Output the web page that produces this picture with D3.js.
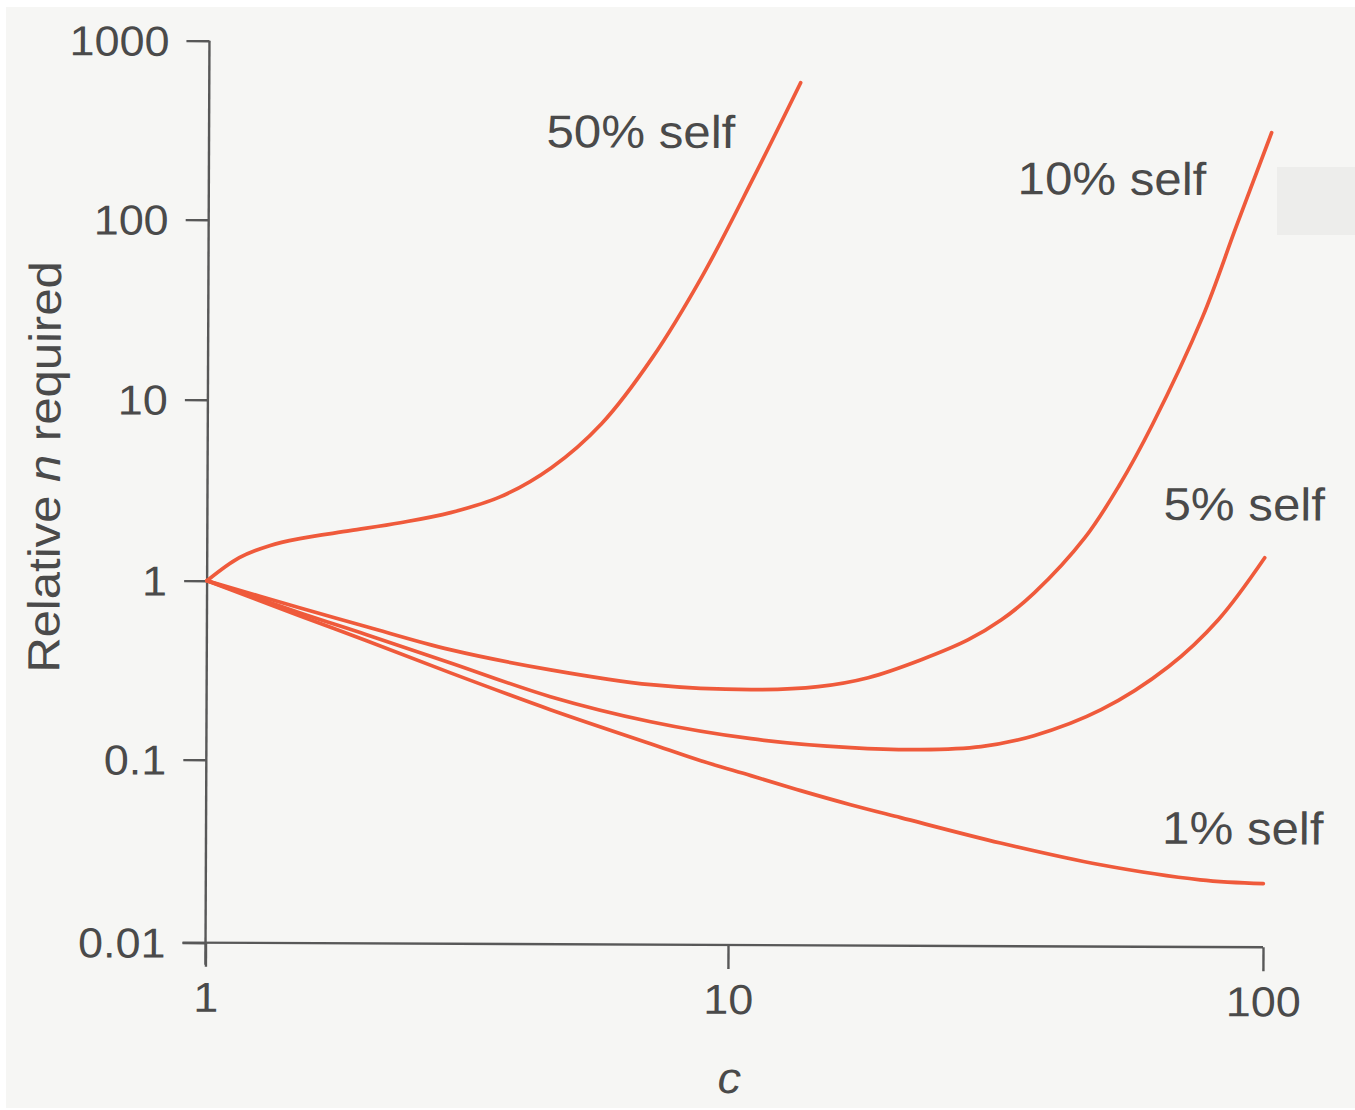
<!DOCTYPE html>
<html>
<head>
<meta charset="utf-8">
<script src="https://cdn.jsdelivr.net/npm/d3@7"></script>
<style>
  html, body { margin: 0; padding: 0; background: #ffffff; }
  svg { display: block; }
</style>
</head>
<body>
<svg id="chart" width="1355" height="1110"></svg>
<script>
// ---- data -------------------------------------------------------------
const xTickValues = [1, 10, 100];
const xTickLabels = ["1", "10", "100"];
const yTickValues = [1000, 100, 10, 1, 0.1, 0.01];
const yTickLabels = ["1000", "100", "10", "1", "0.1", "0.01"];

const seriesNames = ["50% self", "10% self", "5% self", "1% self"];

// c (x) and relative n (y) for each self fraction
const c50 = [1, 1.152, 1.316, 1.503, 1.876, 2.34, 2.92, 3.64, 4.55, 5.67, 7.08, 8.84, 11.0, 13.45];
const n50 = [1, 1.342, 1.567, 1.716, 1.904, 2.113, 2.41, 2.96, 4.29, 7.53, 17.5, 50.8, 177, 602];

const c10 = [1, 1.503, 2.022, 2.92, 4.55, 7.08, 11.0, 14.67, 18.19, 22.85, 27.97, 32.24, 37.16, 46.1, 53.35, 61.5, 76.2, 87.9, 102.2];
const n10 = [1, 0.710, 0.558, 0.4174, 0.324, 0.269, 0.2538, 0.2648, 0.298, 0.3767, 0.4886, 0.632, 0.8976, 1.814, 3.52, 7.66, 30.5, 96.8, 325];

const c5 = [1, 1.503, 2.022, 2.92, 4.55, 7.08, 11.0, 16.9, 22.85, 29.6, 37.16, 49.6, 66.2, 82.0, 100];
const n5 = [1, 0.666, 0.504, 0.3532, 0.2293, 0.1671, 0.1351, 0.1210, 0.1184, 0.1235, 0.1426, 0.2000, 0.349, 0.641, 1.42];

const c1 = [1, 1.503, 2.022, 2.92, 4.55, 7.08, 8.84, 11.0, 13.63, 16.9, 20.97, 32.24, 49.6, 76.2, 100];
const n1 = [1, 0.641, 0.4664, 0.3107, 0.194, 0.1259, 0.1014, 0.0843, 0.0700, 0.0588, 0.0501, 0.0366, 0.0280, 0.0233, 0.0223];

const seriesC = [c50, c10, c5, c1];
const seriesN = [n50, n10, n5, n1];

// ---- layout -----------------------------------------------------------
const W = 1355, H = 1110;
const INK = "#4a4a4a";
const AXIS = "#585858";
const CURVE = "#ef5a3b";
const FONT = "'Liberation Sans', Arial, Helvetica, sans-serif";
const STRETCH = 1.07;   // the printed face is a little wider than Liberation Sans

// label placement for each curve: anchor x, baseline y, text-anchor
const labelLayout = [
  { x: 545,  y: 148, anchor: "start" },
  { x: 1205, y: 193, anchor: "end" },
  { x: 1325, y: 518, anchor: "end" },
  { x: 1325, y: 842, anchor: "end" }
];

// ---- scales (piecewise log, one segment per decade) -------------------
const x = d3.scaleLog().domain([1, 10, 100]).range([207.5, 730, 1265]);
const y = d3.scaleLog().domain([1000, 100, 10, 1, 0.1, 0.01]).range([43, 222, 402, 583, 762, 945]);

const svg = d3.select("#chart");

// page
svg.append("rect").attr("x", 0).attr("y", 0).attr("width", W).attr("height", H).attr("fill", "#ffffff");
svg.append("rect").attr("x", 6).attr("y", 7).attr("width", W - 6).attr("height", H - 9).attr("fill", "#f6f6f4");
svg.append("rect").attr("x", 1277).attr("y", 167).attr("width", 80).attr("height", 68).attr("fill", "#ededeb");

// the whole figure sits very slightly rotated on the page
const g = svg.append("g").attr("transform", "rotate(0.25, 736, 492)");

// ---- axes -------------------------------------------------------------
const yAxis = d3.axisLeft(y)
  .tickValues(yTickValues)
  .tickFormat((d, i) => yTickLabels[i])
  .tickSize(23)
  .tickPadding(17);

const gy = g.append("g").attr("transform", `translate(${x(1)},0)`).call(yAxis);
gy.select(".domain").remove();
gy.selectAll(".tick line").attr("stroke", AXIS).attr("stroke-width", 2.4);
gy.selectAll(".tick text")
  .attr("fill", INK)
  .attr("font-family", FONT)
  .attr("font-size", 42)
  .attr("dy", "0.35em")
  .attr("x", null)
  .attr("transform", `translate(-40,0) scale(${STRETCH},1)`);

const xAxis = d3.axisBottom(x)
  .tickValues(xTickValues)
  .tickFormat((d, i) => xTickLabels[i])
  .tickSize(24)
  .tickPadding(14);

const gx = g.append("g").attr("transform", `translate(0,${y(0.01)})`).call(xAxis);
gx.select(".domain").remove();
gx.selectAll(".tick line").attr("stroke", AXIS).attr("stroke-width", 2.4);
gx.selectAll(".tick text")
  .attr("fill", INK)
  .attr("font-family", FONT)
  .attr("font-size", 42)
  .attr("y", null)
  .attr("dy", null)
  .attr("transform", `translate(0,${1014 - y(0.01)}) scale(${STRETCH},1)`);

// axis lines: vertical from the top tick down past the corner, horizontal from left of the corner to 100
g.append("line")
  .attr("x1", x(1)).attr("x2", x(1))
  .attr("y1", y(1000)).attr("y2", y(0.01) + 22)
  .attr("stroke", AXIS).attr("stroke-width", 2.4);
g.append("line")
  .attr("x1", x(1) - 23).attr("x2", x(100))
  .attr("y1", y(0.01)).attr("y2", y(0.01))
  .attr("stroke", AXIS).attr("stroke-width", 2.4);

// axis titles
const yTitle = g.append("text")
  .attr("transform", "translate(60,470) rotate(-90) scale(1.09,1)")
  .attr("text-anchor", "middle")
  .attr("font-family", FONT)
  .attr("font-size", 45)
  .attr("fill", INK);
yTitle.append("tspan").text("Relative ");
yTitle.append("tspan").attr("font-style", "italic").text("n");
yTitle.append("tspan").text(" required");

g.append("text")
  .attr("transform", `translate(${x(10) + 2},1093) scale(${STRETCH},1)`)
  .attr("text-anchor", "middle")
  .attr("font-family", FONT)
  .attr("font-style", "italic")
  .attr("font-size", 44)
  .attr("fill", INK)
  .text("c");

// ---- curves -----------------------------------------------------------
const line = d3.line()
  .x(d => x(d[0]))
  .y(d => y(d[1]))
  .curve(d3.curveCatmullRom.alpha(0.5));

const series = seriesNames.map((name, i) => ({
  name,
  points: seriesC[i].map((c, j) => [c, seriesN[i][j]])
}));

g.append("g")
  .attr("fill", "none")
  .attr("stroke", CURVE)
  .attr("stroke-width", 3.7)
  .attr("stroke-linecap", "round")
  .attr("stroke-linejoin", "round")
  .selectAll("path")
  .data(series)
  .join("path")
  .attr("d", d => line(d.points));

// curve labels
g.append("g")
  .selectAll("text")
  .data(series)
  .join("text")
  .attr("transform", (d, i) => `translate(${labelLayout[i].x},${labelLayout[i].y}) scale(${STRETCH},1)`)
  .attr("text-anchor", (d, i) => labelLayout[i].anchor)
  .attr("font-family", FONT)
  .attr("font-size", 46)
  .attr("fill", INK)
  .text(d => d.name);
</script>
</body>
</html>
